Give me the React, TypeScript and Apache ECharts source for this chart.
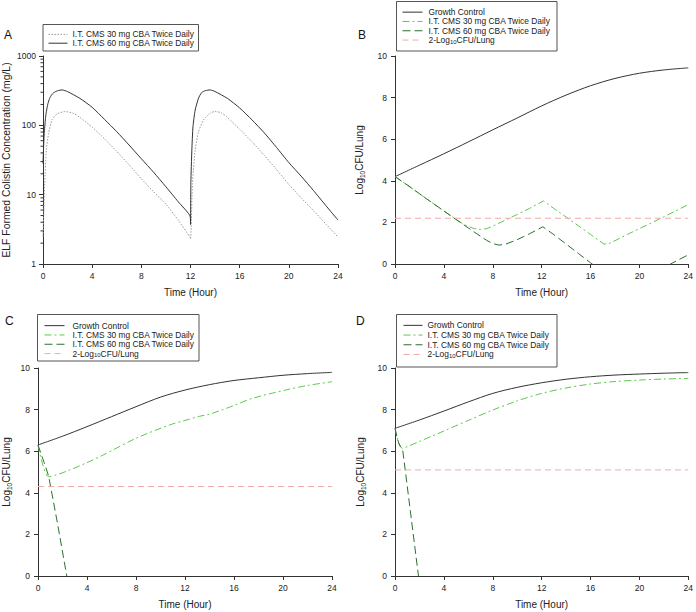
import React, { useEffect, useRef } from "react";
import * as echarts from "echarts";

// ---------- Panel A (log scale, concentration) ----------
const A_T60 = [0, 0.05, 0.1, 0.2, 0.27, 0.4, 0.54, 0.7, 0.87, 1.2, 1.55, 2, 3, 4, 5, 6, 7, 8, 9, 10, 11, 11.98, 12.0, 12.03, 12.11, 12.2, 12.38, 12.65, 12.9, 13.2, 13.6, 14, 15, 16, 17, 18, 19, 20, 21, 22, 23, 24];
const A_V60 = [28, 50, 76, 125, 157, 205, 245, 275, 296, 316, 324, 306, 245, 182, 122, 81, 52, 33, 21, 13, 7.9, 4.8, 3.7, 15, 44, 95, 166, 246, 296, 316, 324, 307, 245, 178, 120, 78, 48, 29, 18.5, 11.5, 7.0, 4.3];
const A_T30 = [0, 0.07, 0.14, 0.27, 0.46, 0.73, 1.14, 1.8, 2.5, 3, 4, 5, 6, 7, 8, 9, 10, 11, 11.98, 12.0, 12.05, 12.16, 12.38, 12.65, 13.06, 13.6, 14, 14.5, 15, 16, 17, 18, 19, 20, 21, 22, 23, 24];
const A_V30 = [2.5, 6, 14.6, 44, 77, 120, 146, 158, 148, 130, 94, 64, 42, 27, 17, 11, 7.3, 4.3, 2.4, 2.3, 3, 14.5, 44, 80, 120, 150, 158, 152, 130, 88, 58, 37, 23, 14, 9, 5.9, 3.8, 2.45];
const A_MINOR = [2, 3, 4, 5, 6, 7, 8, 9, 20, 30, 40, 50, 60, 70, 80, 90, 200, 300, 400, 500, 600, 700, 800, 900];

// ---------- Panel B ----------
const B_TG = [0, 2, 4, 6, 8, 10, 12, 14, 16, 18, 20, 22, 24];
const B_VG = [4.2, 4.75, 5.3, 5.87, 6.45, 7.02, 7.6, 8.12, 8.57, 8.92, 9.17, 9.33, 9.43];
const B_T30 = [0, 1, 2, 3, 4, 5, 5.5, 6, 6.5, 7, 7.5, 8, 9, 10, 11, 12.15, 13, 14, 15, 16, 16.6, 17.1, 17.5, 18, 19, 20, 21, 22, 23, 24];
const B_V30 = [4.2, 3.8, 3.38, 2.96, 2.55, 2.14, 1.95, 1.8, 1.7, 1.66, 1.7, 1.82, 2.1, 2.38, 2.67, 3.03, 2.67, 2.26, 1.84, 1.42, 1.17, 0.96, 0.98, 1.12, 1.42, 1.7, 1.98, 2.27, 2.56, 2.86];
const B_T60 = [0, 1, 2, 3, 4, 5, 6, 7, 7.5, 8, 8.5, 9, 10, 11, 12.1, 13, 14, 15, 16, 17, 18, 18.6, 19, 20, 21, 22, 23, 24];
const B_V60 = [4.2, 3.8, 3.38, 2.96, 2.55, 2.14, 1.73, 1.33, 1.14, 0.98, 0.91, 0.94, 1.17, 1.45, 1.79, 1.41, 0.96, 0.51, 0.06, -0.39, -0.84, -1.1, -1.02, -0.74, -0.46, -0.17, 0.14, 0.44];
const B_LIMIT = 2.2;

// ---------- Panel C ----------
const C_TG = [0, 2, 4, 6, 8, 10, 12, 14, 16, 18, 20, 22, 24];
const C_VG = [6.3, 6.72, 7.18, 7.66, 8.14, 8.6, 8.94, 9.2, 9.4, 9.53, 9.65, 9.73, 9.79];
const C_T30 = [0, 0.87, 1.5, 2.6, 4, 5.33, 8, 10.73, 12, 13.2, 14, 15, 16, 17.5, 20.2, 22, 24];
const C_V30 = [6.3, 4.77, 4.86, 5.1, 5.45, 5.82, 6.62, 7.26, 7.48, 7.68, 7.78, 7.98, 8.2, 8.54, 8.94, 9.16, 9.34];
const C_T60 = [0, 0.5, 0.87, 1.6, 2.35];
const C_V60 = [6.3, 5.45, 4.8, 2.5, 0];
const C_LIMIT = 4.3;

// ---------- Panel D ----------
const D_TG = [0, 2, 4, 6, 8, 10, 12, 14, 16, 18, 20, 22, 24];
const D_VG = [7.1, 7.5, 7.93, 8.37, 8.78, 9.07, 9.29, 9.46, 9.58, 9.66, 9.71, 9.75, 9.78];
const D_T30 = [0, 0.15, 0.3, 0.45, 0.62, 1, 2, 3, 4, 6, 8, 10, 12, 14, 16, 18, 20, 22, 24];
const D_V30 = [7.1, 6.7, 6.4, 6.22, 6.14, 6.22, 6.47, 6.72, 6.97, 7.48, 7.98, 8.42, 8.78, 9.04, 9.23, 9.35, 9.42, 9.47, 9.5];
const D_T60 = [0, 0.15, 0.3, 0.45, 0.62, 0.9, 1.92];
const D_V60 = [7.1, 6.7, 6.4, 6.22, 6.1, 4.8, 0];
const D_LIMIT = 5.1;

const TIME_RANGE = [0, 24];

const N_GC = "Growth Control";
const N_30 = "I.T. CMS 30 mg CBA Twice Daily";
const N_60 = "I.T. CMS 60 mg CBA Twice Daily";
const N_LIM = "2-Log10CFU/Lung";
const NA_30 = "A|" + N_30;
const NA_60 = "A|" + N_60;

const FONT = "'Liberation Sans', Arial, sans-serif";
const C_BLACK = "#333333";
const C_LGREEN = "#5cc94c";
const C_DGREEN = "#2f6e2f";
const C_PINK = "#f2a9a9";
const C_GRAY = "#9a9a9a";

const zip = (t: number[], v: number[]) => t.map((x, i) => [x, v[i]]);

function buildOption() {
  const grids = [
    { left: 43, top: 56, width: 295, height: 208 },
    { left: 395, top: 56, width: 296, height: 208 },
    { left: 36, top: 368, width: 296, height: 208 },
    { left: 395, top: 368, width: 296, height: 208 },
  ];
  const axisLine = { show: true, lineStyle: { color: C_BLACK, width: 1 } };
  const xAxes = grids.map((_, i) => ({
    type: "value",
    gridIndex: i,
    min: TIME_RANGE[0],
    max: TIME_RANGE[1],
    interval: 4,
    axisLine,
    axisTick: { show: true, length: 4, lineStyle: { color: C_BLACK } },
    axisLabel: { fontSize: 8.5, color: "#222", margin: 7, fontFamily: FONT },
    splitLine: { show: false },
    name: "Time (Hour)",
    nameLocation: "middle",
    nameGap: 23,
    nameTextStyle: { fontSize: 10, color: "#222", fontFamily: FONT },
  }));
  const yName = "Log{sub|10}CFU/Lung";
  const yRich = { sub: { fontSize: 6.5, fontFamily: FONT, color: "#222", verticalAlign: "bottom", padding: [6, 0, 0, 0] } };
  const yAxes: any[] = [
    {
      type: "log",
      gridIndex: 0,
      logBase: 10,
      min: 1,
      max: 1000,
      axisLine,
      axisTick: { show: true, length: 4, lineStyle: { color: C_BLACK } },
      axisLabel: { fontSize: 8.5, color: "#222", margin: 7, fontFamily: FONT, formatter: (v: number) => String(Math.round(v)) },
      splitLine: { show: false },
      name: "ELF Formed Colistin Concentration (mg/L)",
      nameLocation: "middle",
      nameGap: 32,
      nameTextStyle: { fontSize: 10.4, color: "#222", fontFamily: FONT },
    },
  ];
  const gapsB = [29, 25.5, 28];
  for (let i = 1; i < 4; i++) {
    yAxes.push({
      type: "value",
      gridIndex: i,
      min: 0,
      max: 10,
      interval: 2,
      axisLine,
      axisTick: { show: true, length: 4, lineStyle: { color: C_BLACK } },
      axisLabel: { fontSize: 8.5, color: "#222", margin: 8, fontFamily: FONT },
      splitLine: { show: false },
      name: yName,
      nameLocation: "middle",
      nameGap: gapsB[i - 1],
      nameTextStyle: { fontSize: 10, color: "#222", fontFamily: FONT, rich: yRich },
    });
  }

  const line = (name: string, idx: number, data: number[][], color: string, type: any, smooth: number | boolean = false) => ({
    type: "line",
    name,
    xAxisIndex: idx,
    yAxisIndex: idx,
    data,
    showSymbol: false,
    symbol: "none",
    smooth,
    clip: true,
    lineStyle: { color, width: 1, type },
    itemStyle: { color },
    z: 3,
  });
  const dash30: any = [7, 3, 2, 3];
  const dash60: any = [8, 4];
  const dashLim: any = [6, 4];

  const series: any[] = [
    line(NA_30, 0, zip(A_T30, A_V30), C_GRAY, [1.5, 1.5], 0.2),
    line(NA_60, 0, zip(A_T60, A_V60), C_BLACK, "solid", 0.2),
    {
      type: "custom",
      name: "minor",
      xAxisIndex: 0,
      yAxisIndex: 0,
      silent: true,
      data: A_MINOR.map((v) => [0, v]),
      renderItem: (params: any, api: any) => {
        const p = api.coord([api.value(0), api.value(1)]);
        return {
          type: "line",
          shape: { x1: p[0] - 2.5, y1: p[1], x2: p[0], y2: p[1] },
          style: { stroke: C_BLACK, lineWidth: 1 },
        };
      },
    },
  ];
  const panels = [
    { idx: 1, g: [B_TG, B_VG], a: [B_T30, B_V30], b: [B_T60, B_V60], lim: B_LIMIT },
    { idx: 2, g: [C_TG, C_VG], a: [C_T30, C_V30], b: [C_T60, C_V60], lim: C_LIMIT },
    { idx: 3, g: [D_TG, D_VG], a: [D_T30, D_V30], b: [D_T60, D_V60], lim: D_LIMIT },
  ];
  panels.forEach((p) => {
    series.push(line(N_GC, p.idx, zip(p.g[0], p.g[1]), C_BLACK, "solid", 0.3));
    series.push(line(N_30, p.idx, zip(p.a[0], p.a[1]), C_LGREEN, dash30, p.idx === 1 ? false : 0.3));
    series.push(line(N_60, p.idx, zip(p.b[0], p.b[1]), C_DGREEN, dash60, false));
    series.push(line(N_LIM, p.idx, [[TIME_RANGE[0], p.lim], [TIME_RANGE[1], p.lim]], C_PINK, dashLim));
  });

  const mkText = (lh: number, padLeft: number) => ({
    fontSize: 8.4,
    color: "#222",
    fontFamily: FONT,
    lineHeight: lh,
    padding: [0, 0, 0, padLeft],
    rich: { sub: { fontSize: 6, fontFamily: FONT, color: "#222", verticalAlign: "bottom", lineHeight: lh, padding: [3, 0, 0, 0] } },
  });
  const legendCommon = {
    orient: "vertical",
    itemWidth: 20,
    itemHeight: 8,
    itemGap: 0,
    padding: 0,
    selectedMode: false,
    itemStyle: { opacity: 0, borderWidth: 0 },
    lineStyle: { width: 1 },
    formatter: (n: string) => (n === N_LIM ? "2-Log{sub|10}CFU/Lung" : n.startsWith("A|") ? n.slice(2) : n),
  };
  const legends = [
    { ...legendCommon, left: 48, top: 30, itemWidth: 19, data: [NA_30, NA_60], textStyle: mkText(8.8, 0) },
    { ...legendCommon, left: 402, top: 7.5, data: [N_GC, N_30, N_60, N_LIM], textStyle: mkText(9.3, 1) },
    { ...legendCommon, left: 44, top: 321, data: [N_GC, N_30, N_60, N_LIM], textStyle: mkText(9.3, 3) },
    { ...legendCommon, left: 403, top: 320.5, itemWidth: 19, data: [N_GC, N_30, N_60, N_LIM], textStyle: mkText(9.7, 0) },
  ];

  const box = (x: number, y: number, w: number, h: number) => ({
    type: "rect",
    shape: { x, y, width: w, height: h },
    style: { fill: "none", stroke: "#555", lineWidth: 1 },
    silent: true,
  });
  const lab = (t: string, x: number, y: number) => ({
    type: "text",
    x,
    y,
    style: { text: t, fontSize: 12, fill: "#111", fontFamily: FONT },
    silent: true,
  });

  return {
    animation: false,
    backgroundColor: "#ffffff",
    grid: grids,
    xAxis: xAxes,
    yAxis: yAxes,
    legend: legends,
    series,
    graphic: [
      box(43, 24.5, 155.5, 26.5),
      box(396.5, 1.5, 160.5, 49.5),
      box(37.5, 314.5, 161.5, 46.5),
      box(396.5, 314.5, 160.5, 52.5),
      lab("A", 4, 29),
      lab("B", 358, 29),
      lab("C", 5, 315),
      lab("D", 356, 315),
    ],
  };
}

export default function App() {
  const ref = useRef<HTMLDivElement>(null);
  useEffect(() => {
    if (!ref.current) return;
    const chart = echarts.init(ref.current, null, { renderer: "svg" });
    chart.setOption(buildOption() as any);
    return () => chart.dispose();
  }, []);
  return (
    <div
      ref={ref}
      style={{ position: "fixed", left: 0, top: 0, width: 696, height: 612, background: "#fff" }}
    />
  );
}
